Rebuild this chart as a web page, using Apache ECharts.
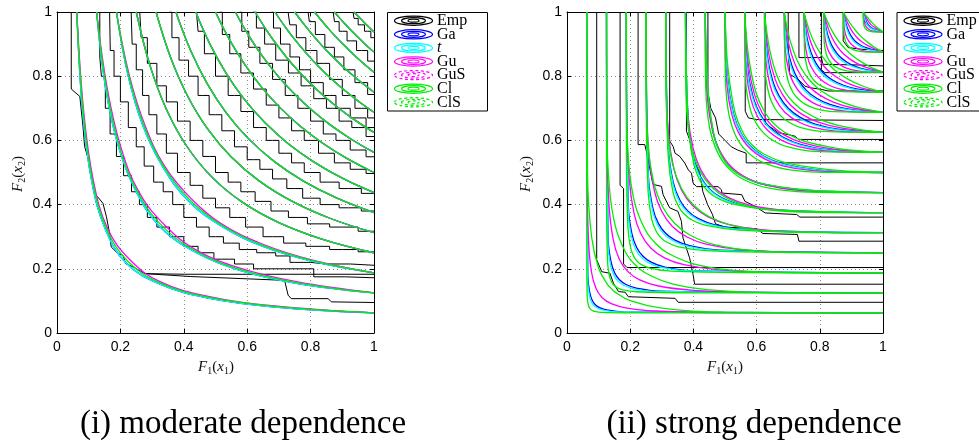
<!DOCTYPE html>
<html><head><meta charset="utf-8">
<script src="https://cdn.jsdelivr.net/npm/echarts/dist/echarts.min.js"></script>
<style>html,body{margin:0;padding:0;background:#fff}#c{width:979px;height:443px}</style>
</head><body><div id="c"></div>
<script>
// ---------- tick values ----------
const axisTicks = [0, 0.2, 0.4, 0.6, 0.8, 1];
const captions = ['(i) moderate dependence', '(ii) strong dependence'];
const legendNames = ['Emp', 'Ga', 't', 'Gu', 'GuS', 'Cl', 'ClS'];

// ---------- (i) moderate dependence : fitted contours ----------
const leftClayton = [
 [[.0625,1],[.0828,.687],[.1122,.473],[.1561,.325],[.2235,.2235],[.325,.1561],[.473,.1122],[.687,.0828],[1,.0625]],
 [[.125,1],[.1564,.7596],[.1982,.5769],[.2548,.4382],[.3329,.3329],[.4382,.2548],[.5769,.1982],[.7596,.1564],[1,.125]],
 [[.1875,1],[.2259,.8033],[.2744,.6456],[.3364,.5189],[.4169,.4169],[.5189,.3364],[.6456,.2744],[.8033,.2259],[1,.1875]],
 [[.25,1],[.2928,.8353],[.3447,.698],[.4084,.5833],[.4872,.4872],[.5833,.4084],[.698,.3447],[.8353,.2928],[1,.25]],
 [[.3125,1],[.3575,.8607],[.4107,.7408],[.4739,.6376],[.5491,.5491],[.6376,.4739],[.7408,.4107],[.8607,.3575],[1,.3125]],
 [[.375,1],[.4208,.8816],[.4733,.7776],[.5339,.6859],[.6047,.6047],[.6859,.5339],[.7776,.4733],[.8816,.4208],[1,.375]],
 [[.4375,1],[.4825,.8999],[.5332,.8098],[.5904,.7287],[.6557,.6557],[.7287,.5904],[.8098,.5332],[.8999,.4825],[1,.4375]],
 [[.5,1],[.5432,.9156],[.591,.8383],[.6439,.7676],[.7028,.7028],[.7676,.6439],[.8383,.591],[.9156,.5432],[1,.5]],
 [[.5625,1],[.6029,.9296],[.6468,.8642],[.6946,.8033],[.7468,.7468],[.8033,.6946],[.8642,.6468],[.9296,.6029],[1,.5625]],
 [[.625,1],[.6617,.9422],[.701,.8878],[.7431,.8366],[.7883,.7883],[.8366,.7431],[.8878,.701],[.9422,.6617],[1,.625]],
 [[.6875,1],[.7197,.9538],[.7536,.9098],[.7896,.8678],[.8277,.8277],[.8678,.7896],[.9098,.7536],[.9538,.7197],[1,.6875]],
 [[.75,1],[.7769,.9644],[.805,.9302],[.8344,.897],[.8651,.8651],[.897,.8344],[.9302,.805],[.9644,.7769],[1,.75]],
 [[.8125,1],[.8336,.9742],[.8554,.9491],[.8777,.9248],[.9009,.9009],[.9248,.8777],[.9491,.8554],[.9742,.8336],[1,.8125]],
 [[.875,1],[.8896,.9834],[.9045,.9671],[.9197,.951],[.9352,.9352],[.951,.9197],[.9671,.9045],[.9834,.8896],[1,.875]],
 [[.9375,1],[.9451,.9919],[.9528,.9839],[.9604,.9761],[.9682,.9682],[.9761,.9604],[.9839,.9528],[.9919,.9451],[1,.9375]]
];
const leftGumbelLow = [
 [[.0625,1],[.0845,.687],[.115,.473],[.16,.325],[.229,.229],[.325,.16],[.473,.115],[.687,.0845],[1,.0625]],
 [[.125,1],[.159,.7596],[.202,.5769],[.259,.4382],[.338,.338],[.4382,.259],[.5769,.202],[.7596,.159],[1,.125]],
 [[.1875,1],[.228,.8033],[.278,.6456],[.34,.5189],[.421,.421],[.5189,.34],[.6456,.278],[.8033,.228],[1,.1875]]
];
const leftTLow = [
 [[.0625,1],[.081,.687],[.1095,.473],[.152,.325],[.218,.218],[.325,.152],[.473,.1095],[.687,.081],[1,.0625]],
 [[.125,1],[.154,.7596],[.195,.5769],[.251,.4382],[.328,.328],[.4382,.251],[.5769,.195],[.7596,.154],[1,.125]],
 [[.1875,1],[.224,.8033],[.271,.6456],[.333,.5189],[.413,.413],[.5189,.333],[.6456,.271],[.8033,.224],[1,.1875]]
];
// empirical contours (i)
const leftEmpRead = [
 [[.045,1],[.045,.76],[.072,.737],[.082,.643],[.087,.581],[.103,.529],[.119,.435],[.145,.404],[.156,.362],[.166,.31],[.171,.268],[.192,.248],[.208,.242],[.217,.216],[.24,.206],[.277,.185],[.403,.183],[1,.183]],
 [[.277,.185],[.42,.176],[.718,.164],[.729,.118],[.739,.107],[.855,.107],[.866,.097],[1,.095]]
];
const leftEmpStep = [
 [[.135,1],[.135,.86],[.145,.8],[.16,.7],[.175,.62],[.2,.55],[.22,.49],[.25,.44],[.27,.4],[.3,.36],[.33,.33],[.38,.3],[.42,.27],[.47,.25],[.52,.23],[.6,.215],[.64,.2],[.8,.2],[.82,.175],[1,.172]],
 [[.166,1],[.17,.88],[.19,.8],[.21,.72],[.24,.64],[.26,.58],[.29,.52],[.32,.47],[.35,.44],[.38,.4],[.42,.36],[.46,.33],[.5,.3],[.55,.28],[.6,.26],[.66,.25],[.72,.24],[.75,.22],[.85,.215],[1,.211]],
 [[.234,1],[.24,.9],[.26,.82],[.28,.74],[.3,.68],[.33,.62],[.36,.56],[.4,.5],[.44,.46],[.48,.42],[.52,.39],[.57,.36],[.62,.33],[.68,.3],[.75,.28],[.82,.27],[.9,.26],[1,.253]],
 [[.261,1],[.27,.92],[.3,.84],[.33,.77],[.36,.72],[.4,.66],[.44,.6],[.48,.55],[.52,.5],[.56,.47],[.6,.44],[.65,.41],[.7,.38],[.76,.36],[.82,.34],[.9,.33],[1,.317]],
 [[.355,1],[.37,.92],[.4,.85],[.43,.8],[.46,.74],[.5,.68],[.54,.63],[.58,.58],[.62,.54],[.66,.51],[.7,.48],[.75,.45],[.8,.42],[.86,.4],[.92,.39],[1,.38]],
 [[.44,1],[.45,.94],[.48,.87],[.52,.8],[.56,.74],[.6,.69],[.64,.64],[.68,.6],[.72,.56],[.76,.53],[.8,.5],[.86,.47],[.92,.45],[1,.435]],
 [[.513,1],[.53,.93],[.56,.87],[.6,.81],[.64,.76],[.68,.71],[.72,.67],[.76,.63],[.8,.6],[.85,.56],[.9,.53],[.95,.51],[1,.497]],
 [[.576,1],[.59,.94],[.62,.89],[.66,.84],[.7,.79],[.74,.74],[.78,.7],[.82,.66],[.86,.62],[.9,.6],[.95,.57],[1,.549]],
 [[.618,1],[.64,.95],[.67,.9],[.71,.85],[.75,.81],[.79,.77],[.83,.73],[.87,.7],[.91,.66],[.95,.64],[1,.612]],
 [[.676,1],[.69,.95],[.72,.9],[.75,.86],[.78,.82],[.82,.78],[.86,.74],[.9,.7],[.95,.67],[1,.64]],
 [[.729,1],[.74,.96],[.77,.92],[.8,.88],[.84,.84],[.88,.79],[.92,.74],[.96,.7],[1,.67]],
 [[.792,1],[.8,.97],[.83,.93],[.86,.89],[.89,.86],[.92,.82],[.96,.78],[1,.743]],
 [[.871,1],[.88,.97],[.9,.94],[.93,.91],[.96,.88],[1,.847]],
 [[.934,1],[.94,.98],[.96,.96],[.98,.94],[1,.92]]
];

// ---------- (ii) strong dependence : fitted contours ----------
const rightClayton = [
 [[.0625,1],[.0627,.2],[.0642,.11],[.0673,.088],[.0708,.079],[.0743,.0743],[.079,.0708],[.088,.0673],[.11,.0642],[.2,.0627],[1,.0625]],
 [[.125,1],[.1253,.4],[.1285,.22],[.1343,.177],[.1415,.158],[.1486,.1486],[.158,.1415],[.177,.1343],[.22,.1285],[.4,.1253],[1,.125]],
 [[.1875,1],[.1881,.55],[.1927,.33],[.2014,.265],[.2122,.237],[.2229,.2229],[.237,.2122],[.265,.2014],[.33,.1927],[.55,.1881],[1,.1875]],
 [[.25,1],[.2508,.7],[.2567,.44],[.2684,.353],[.2826,.316],[.297,.297],[.316,.2826],[.353,.2684],[.44,.2567],[.7,.2508],[1,.25]],
 [[.3125,1],[.3136,.8],[.3207,.545],[.3352,.44],[.3531,.394],[.3707,.3707],[.394,.3531],[.44,.3352],[.545,.3207],[.8,.3136],[1,.3125]],
 [[.375,1],[.3763,.88],[.3841,.65],[.4014,.526],[.423,.471],[.4438,.4438],[.471,.423],[.526,.4014],[.65,.3841],[.88,.3763],[1,.375]],
 [[.4375,1],[.4389,.93],[.4466,.75],[.4667,.61],[.4916,.547],[.5156,.5156],[.547,.4916],[.61,.4667],[.75,.4466],[.93,.4389],[1,.4375]],
 [[.5,1],[.5018,.95],[.509,.83],[.5309,.69],[.5591,.62],[.5857,.5857],[.62,.5591],[.69,.5309],[.83,.509],[.95,.5018],[1,.5]],
 [[.5625,1],[.5657,.95],[.5762,.85],[.5978,.75],[.6245,.69],[.6532,.6532],[.69,.6245],[.75,.5978],[.85,.5762],[.95,.5657],[1,.5625]],
 [[.625,1],[.6293,.96],[.642,.88],[.665,.8],[.6907,.75],[.7173,.7173],[.75,.6907],[.8,.665],[.88,.642],[.96,.6293],[1,.625]],
 [[.6875,1],[.6926,.97],[.7063,.91],[.728,.85],[.7539,.805],[.7774,.7774],[.805,.7539],[.85,.728],[.91,.7063],[.97,.6926],[1,.6875]],
 [[.75,1],[.7551,.98],[.7695,.935],[.7901,.89],[.813,.855],[.8327,.8327],[.855,.813],[.89,.7901],[.935,.7695],[.98,.7551],[1,.75]],
 [[.8125,1],[.8181,.985],[.8315,.955],[.8486,.925],[.8669,.9],[.8827,.8827],[.9,.8669],[.925,.8486],[.955,.8315],[.985,.8181],[1,.8125]],
 [[.875,1],[.8804,.99],[.8911,.972],[.903,.955],[.9153,.94],[.9272,.9272],[.94,.9153],[.955,.903],[.972,.8911],[.99,.8804],[1,.875]],
 [[.9375,1],[.9451,.99],[.9534,.98],[.9606,.972],[.9662,.9662],[.972,.9606],[.98,.9534],[.99,.9451],[1,.9375]]
];
const rightGumbel = [
 [[.0625,1],[.0639,.45],[.0685,.28],[.0775,.19],[.0913,.14],[.1107,.1107],[.14,.0913],[.19,.0775],[.28,.0685],[.45,.0639],[1,.0625]],
 [[.125,1],[.1263,.6],[.1329,.4],[.1464,.29],[.1655,.23],[.1919,.1919],[.23,.1655],[.29,.1464],[.4,.1329],[.6,.1263],[1,.125]],
 [[.1875,1],[.1888,.68],[.1968,.48],[.2127,.37],[.2333,.31],[.2649,.2649],[.31,.2333],[.37,.2127],[.48,.1968],[.68,.1888],[1,.1875]],
 [[.25,1],[.251,.75],[.2597,.55],[.2772,.44],[.2991,.38],[.3328,.3328],[.38,.2991],[.44,.2772],[.55,.2597],[.75,.251],[1,.25]],
 [[.3125,1],[.3134,.8],[.3212,.62],[.3387,.51],[.3627,.445],[.3973,.3973],[.445,.3627],[.51,.3387],[.62,.3212],[.8,.3134],[1,.3125]],
 [[.375,1],[.3756,.85],[.3827,.68],[.3992,.575],[.4227,.51],[.4591,.4591],[.51,.4227],[.575,.3992],[.68,.3827],[.85,.3756],[1,.375]],
 [[.4375,1],[.4379,.88],[.4443,.73],[.4605,.63],[.4824,.57],[.5188,.5188],[.57,.4824],[.63,.4605],[.73,.4443],[.88,.4379],[1,.4375]],
 [[.5,1],[.5004,.9],[.5064,.77],[.5216,.68],[.5423,.625],[.5769,.5769],[.625,.5423],[.68,.5216],[.77,.5064],[.9,.5004],[1,.5]],
 [[.5625,1],[.5628,.92],[.5679,.81],[.5815,.73],[.6001,.68],[.6334,.6334],[.68,.6001],[.73,.5815],[.81,.5679],[.92,.5628],[1,.5625]],
 [[.625,1],[.6252,.94],[.6291,.85],[.6417,.775],[.6588,.73],[.6886,.6886],[.73,.6588],[.775,.6417],[.85,.6291],[.94,.6252],[1,.625]],
 [[.6875,1],[.6877,.95],[.691,.88],[.7011,.82],[.716,.78],[.7428,.7428],[.78,.716],[.82,.7011],[.88,.691],[.95,.6877],[1,.6875]],
 [[.75,1],[.7502,.96],[.7526,.91],[.7597,.865],[.7719,.83],[.7959,.7959],[.83,.7719],[.865,.7597],[.91,.7526],[.96,.7502],[1,.75]],
 [[.8125,1],[.8126,.975],[.8145,.935],[.8203,.9],[.8292,.875],[.8481,.8481],[.875,.8292],[.9,.8203],[.935,.8145],[.975,.8126],[1,.8125]],
 [[.875,1],[.8758,.965],[.8791,.94],[.8855,.92],[.8994,.8994],[.92,.8855],[.94,.8791],[.965,.8758],[1,.875]],
 [[.9375,1],[.9388,.975],[.9432,.96],[.9501,.9501],[.96,.9432],[.975,.9388],[1,.9375]]
];
const rightGauss = [
 [[.0625,1],[.0659,.178],[.0714,.1288],[.079,.1034],[.0889,.0889],[.1034,.079],[.1288,.0714],[.178,.0659],[1,.0625]],
 [[.125,1],[.1303,.292],[.1392,.2222],[.1511,.1868],[.166,.166],[.1868,.1511],[.2222,.1392],[.292,.1303],[1,.125]],
 [[.1875,1],[.1943,.39],[.2059,.307],[.2206,.2662],[.2397,.2397],[.2662,.2206],[.307,.2059],[.39,.1943],[1,.1875]],
 [[.25,1],[.2579,.484],[.2719,.3878],[.2892,.3416],[.3113,.3113],[.3416,.2892],[.3878,.2719],[.484,.2579],[1,.25]],
 [[.3125,1],[.3209,.575],[.3366,.468],[.357,.4144],[.3813,.3813],[.4144,.357],[.468,.3366],[.575,.3209],[1,.3125]],
 [[.375,1],[.3836,.662],[.4005,.5456],[.4229,.4866],[.4499,.4499],[.4866,.4229],[.5456,.4005],[.662,.3836],[1,.375]],
 [[.4375,1],[.4457,.742],[.4642,.618],[.488,.5562],[.5169,.5169],[.5562,.488],[.618,.4642],[.742,.4457],[1,.4375]],
 [[.5,1],[.5077,.8],[.5263,.685],[.5507,.6225],[.5813,.5813],[.6225,.5507],[.685,.5263],[.8,.5077],[1,.5]],
 [[.5625,1],[.5712,.826],[.588,.738],[.6099,.684],[.6413,.6413],[.684,.6099],[.738,.588],[.826,.5712],[1,.5625]],
 [[.625,1],[.6343,.862],[.651,.785],[.6716,.738],[.7001,.7001],[.738,.6716],[.785,.651],[.862,.6343],[1,.625]],
 [[.6875,1],[.6971,.892],[.7119,.832],[.7312,.79],[.7567,.7567],[.79,.7312],[.832,.7119],[.892,.6971],[1,.6875]],
 [[.75,1],[.7594,.92],[.7718,.875],[.7883,.84],[.8106,.8106],[.84,.7883],[.875,.7718],[.92,.7594],[1,.75]],
 [[.8125,1],[.8213,.943],[.8316,.91],[.8443,.885],[.862,.862],[.885,.8443],[.91,.8316],[.943,.8213],[1,.8125]],
 [[.875,1],[.8819,.9678],[.8887,.946],[.8974,.928],[.9105,.9105],[.928,.8974],[.946,.8887],[.9678,.8819],[1,.875]],
 [[.9375,1],[.9406,.99],[.9447,.977],[.9501,.9648],[.9566,.9566],[.9648,.9501],[.977,.9447],[.99,.9406],[1,.9375]]
];
const rightT = [
 [[.0625,1],[.0655,.161],[.0704,.1186],[.077,.0973],[.0852,.0852],[.0973,.077],[.1186,.0704],[.161,.0655],[1,.0625]],
 [[.125,1],[.1299,.274],[.1379,.2109],[.1488,.1796],[.1616,.1616],[.1796,.1488],[.2109,.1379],[.274,.1299],[1,.125]],
 [[.1875,1],[.1939,.375],[.2048,.2965],[.2185,.2589],[.2355,.2355],[.2589,.2185],[.2965,.2048],[.375,.1939],[1,.1875]],
 [[.25,1],[.2576,.473],[.2711,.3791],[.2875,.3352],[.3077,.3077],[.3352,.2875],[.3791,.2711],[.473,.2576],[1,.25]],
 [[.3125,1],[.3209,.5675],[.3362,.461],[.356,.4093],[.3787,.3787],[.4093,.356],[.461,.3362],[.5675,.3209],[1,.3125]],
 [[.375,1],[.3837,.659],[.4008,.5407],[.4229,.4827],[.4484,.4484],[.4827,.4229],[.5407,.4008],[.659,.3837],[1,.375]],
 [[.4375,1],[.4459,.744],[.4649,.616],[.4888,.5539],[.5165,.5165],[.5539,.4888],[.616,.4649],[.744,.4459],[1,.4375]],
 [[.5,1],[.5074,.794],[.5254,.684],[.549,.623],[.5804,.5804],[.623,.549],[.684,.5254],[.794,.5074],[1,.5]],
 [[.5625,1],[.5704,.822],[.5864,.736],[.6075,.683],[.6394,.6394],[.683,.6075],[.736,.5864],[.822,.5704],[1,.5625]],
 [[.625,1],[.633,.859],[.6487,.7825],[.6684,.736],[.6972,.6972],[.736,.6684],[.7825,.6487],[.859,.633],[1,.625]],
 [[.6875,1],[.6956,.889],[.7092,.829],[.7274,.7875],[.7532,.7532],[.7875,.7274],[.829,.7092],[.889,.6956],[1,.6875]],
 [[.75,1],[.7577,.9175],[.7688,.8725],[.7842,.8375],[.8069,.8069],[.8375,.7842],[.8725,.7688],[.9175,.7577],[1,.75]],
 [[.8125,1],[.8197,.941],[.8288,.9075],[.8405,.8825],[.8585,.8585],[.8825,.8405],[.9075,.8288],[.941,.8197],[1,.8125]],
 [[.875,1],[.8804,.9671],[.8863,.9445],[.8945,.926],[.9078,.9078],[.926,.8945],[.9445,.8863],[.9671,.8804],[1,.875]],
 [[.9375,1],[.9398,.99],[.9432,.9765],[.9484,.9636],[.955,.955],[.9636,.9484],[.9765,.9432],[.99,.9398],[1,.9375]]
];
const rightClaytonSurv = [
 [[.0625,1],[.0649,.5],[.0777,.3],[.1008,.2],[.129,.15],[.1395,.1395],[.15,.129],[.2,.1008],[.3,.0777],[.5,.0649],[1,.0625]],
 [[.125,1],[.1259,.65],[.1344,.45],[.1537,.33],[.1861,.25],[.2141,.2141],[.25,.1861],[.33,.1537],[.45,.1344],[.65,.1259],[1,.125]],
 [[.1875,1],[.1881,.72],[.196,.52],[.2157,.4],[.2485,.32],[.2798,.2798],[.32,.2485],[.4,.2157],[.52,.196],[.72,.1881],[1,.1875]],
 [[.25,1],[.2502,.8],[.2556,.6],[.2742,.47],[.3044,.39],[.341,.341],[.39,.3044],[.47,.2742],[.6,.2556],[.8,.2502],[1,.25]],
 [[.3125,1],[.3126,.85],[.317,.65],[.3332,.53],[.3622,.45],[.3995,.3995],[.45,.3622],[.53,.3332],[.65,.317],[.85,.3126],[1,.3125]],
 [[.375,1],[.3751,.88],[.3783,.7],[.3936,.58],[.4234,.5],[.4564,.4564],[.5,.4234],[.58,.3936],[.7,.3783],[.88,.3751],[1,.375]],
 [[.4375,1],[.4376,.92],[.4393,.76],[.4512,.64],[.4775,.56],[.5121,.5121],[.56,.4775],[.64,.4512],[.76,.4393],[.92,.4376],[1,.4375]],
 [[.5,1],[.5007,.82],[.5091,.7],[.5313,.62],[.5673,.5673],[.62,.5313],[.7,.5091],[.82,.5007],[1,.5]],
 [[.5625,1],[.5659,.7813],[.5811,.6938],[.6009,.65],[.6226,.6226],[.65,.6009],[.6938,.5811],[.7813,.5659],[1,.5625]],
 [[.625,1],[.6279,.8125],[.6409,.7375],[.6579,.7],[.6765,.6765],[.7,.6579],[.7375,.6409],[.8125,.6279],[1,.625]],
 [[.6875,1],[.6899,.8438],[.7008,.7813],[.7149,.75],[.7304,.7304],[.75,.7149],[.7813,.7008],[.8438,.6899],[1,.6875]],
 [[.75,1],[.7519,.875],[.7606,.825],[.772,.8],[.7843,.7843],[.8,.772],[.825,.7606],[.875,.7519],[1,.75]],
 [[.8125,1],[.8139,.9063],[.8205,.8688],[.829,.85],[.8382,.8382],[.85,.829],[.8688,.8205],[.9063,.8139],[1,.8125]],
 [[.875,1],[.876,.9375],[.8803,.9125],[.886,.9],[.8922,.8922],[.9,.886],[.9125,.8803],[.9375,.876],[1,.875]],
 [[.9375,1],[.938,.9688],[.9402,.9563],[.943,.95],[.9461,.9461],[.95,.943],[.9563,.9402],[.9688,.938],[1,.9375]]
];
const rightGumbelSurv = [
 [[.5625,1],[.5737,.838],[.5929,.744],[.6172,.687],[.6473,.6473],[.687,.6172],[.744,.5929],[.838,.5737],[1,.5625]],
 [[.625,1],[.6382,.871],[.658,.7925],[.6812,.744],[.7087,.7087],[.744,.6812],[.7925,.658],[.871,.6382],[1,.625]],
 [[.6875,1],[.7017,.901],[.72,.841],[.7426,.7975],[.7671,.7671],[.7975,.7426],[.841,.72],[.901,.7017],[1,.6875]],
 [[.75,1],[.7645,.9275],[.781,.8825],[.8007,.8475],[.8217,.8217],[.8475,.8007],[.8825,.781],[.9275,.7645],[1,.75]],
 [[.8125,1],[.8264,.949],[.8401,.9175],[.8556,.8925],[.8724,.8724],[.8925,.8556],[.9175,.8401],[.949,.8264],[1,.8125]],
 [[.875,1],[.8865,.9699],[.8959,.9505],[.9064,.934],[.9189,.9189],[.934,.9064],[.9505,.8959],[.9699,.8865],[1,.875]],
 [[.9375,1],[.9429,.99],[.9491,.9785],[.9554,.9684],[.9614,.9614],[.9684,.9554],[.9785,.9491],[.99,.9429],[1,.9375]]
];
// empirical contours (ii)
const rightEmp = [
 [[.094,1],[.094,.228],[.11,.191],[.136,.186],[.147,.155],[.163,.129],[.184,.127],[.194,.113],[.342,.108],[.352,.0956],[1,.0956]],
 [[.168,1],[.168,.46],[.179,.45],[.179,.215],[.19,.204],[1,.204]],
 [[.225,1],[.225,.587],[.246,.587],[.251,.567],[.272,.463],[.299,.457],[.304,.431],[.325,.39],[.351,.379],[.362,.348],[.367,.296],[.388,.234],[.399,.182],[.404,.152],[1,.152]],
 [[.325,1],[.325,.598],[.336,.581],[.342,.56],[.357,.55],[.373,.529],[.384,.508],[.394,.498],[.399,.467],[.41,.456],[.478,.456],[.489,.446],[.49,.436],[.553,.431],[.563,.41],[.595,.395],[.627,.374],[.727,.369],[.737,.361],[1,.361]],
 [[.378,1],[.378,.629],[.389,.6],[.395,.56],[.405,.53],[.42,.5],[.43,.44],[.445,.4],[.46,.37],[.47,.34],[.5,.33],[.6,.325],[.62,.31],[.729,.307],[.734,.286],[1,.286]],
 [[.446,1],[.446,.75],[.455,.7],[.47,.67],[.48,.62],[.5,.6],[.52,.58],[.54,.57],[.567,.56],[.567,.53],[1,.53]],
 [[.564,1],[.564,.691],[.574,.67],[.6,.665],[1,.662]],
 [[.627,1],[.627,.65],[.648,.639],[.669,.624],[.7,.618],[.722,.613],[.732,.603],[1,.603]],
 [[.7,1],[.7,.873],[.705,.806],[.732,.79],[.753,.769],[.769,.764],[.805,.759],[.826,.754],[1,.754]],
 [[.734,1],[.734,.858],[.805,.858],[.81,.837],[.92,.835],[1,.832]],
 [[.805,1],[.805,.82],[.816,.811],[1,.811]],
 [[.874,1],[.874,.91],[.89,.889],[.932,.884],[1,.88]],
 [[.94,1],[.94,.972],[.955,.955],[.97,.945],[1,.937]]
];

// ---------- styles ----------
const COL = {emp:'#000000', ga:'#0000ff', t:'#00ffff', gu:'#ff00ff', cl:'#00ee00'};
const FIT_W = 1.3;
const series = [];
function addCurves(curves, ax, color, width, extra) {
  curves.forEach(function (c) {
    series.push(Object.assign({
      type: 'line', xAxisIndex: ax, yAxisIndex: ax, data: c,
      symbol: 'none', showSymbol: false, silent: true, animation: false,
      emphasis: {disabled: true}, clip: true,
      lineStyle: {color: color, width: width}
    }, extra || {}));
  });
}
const SM = {smooth: 0.4};
// panel (i)  -> axes 0
addCurves(leftEmpRead, 0, COL.emp, 1);
addCurves(leftEmpStep, 0, COL.emp, 1, {step: 'middle'});
addCurves(leftTLow.concat(leftClayton.slice(3)), 0, COL.ga, FIT_W, SM);
addCurves(leftTLow.concat(leftClayton.slice(3)), 0, COL.t, FIT_W, SM);
addCurves(leftGumbelLow.concat(leftClayton.slice(3)), 0, COL.gu, FIT_W, SM);
addCurves(leftClayton, 0, COL.cl, FIT_W, SM);
// panel (ii) -> axes 2
addCurves(rightEmp, 2, COL.emp, 1);
addCurves(rightGauss, 2, COL.ga, FIT_W, SM);
addCurves(rightT, 2, COL.t, FIT_W, SM);
addCurves(rightGumbel, 2, COL.gu, FIT_W, SM);
addCurves(rightGumbelSurv, 2, COL.gu, FIT_W, SM);
addCurves(rightClayton, 2, COL.cl, FIT_W, SM);
addCurves(rightClaytonSurv, 2, COL.cl, FIT_W, SM);

const grids = [
  {left: 57, top: 12, width: 317, height: 321, outerBoundsMode: 'none', containLabel: false},
  {left: 567, top: 12, width: 316, height: 321, outerBoundsMode: 'none', containLabel: false}
];
function mkAxis(g, pos, main, margin) {
  return {
    gridIndex: g, type: 'value', position: pos,
    min: axisTicks[0], max: axisTicks[axisTicks.length - 1], interval: axisTicks[1] - axisTicks[0],
    axisLine: {show: true, onZero: false, lineStyle: {color: '#000', width: 1}},
    axisTick: {show: true, inside: true, length: 4, lineStyle: {color: '#000', width: 1}},
    axisLabel: main ? {show: true, color: '#000', fontSize: 14, fontFamily: 'Liberation Sans, Arial, sans-serif', margin: margin} : {show: false},
    splitLine: main ? {show: true, lineStyle: {color: '#8a8a8a', width: 1, type: [1, 3]}} : {show: false}
  };
}
const xAxes = [mkAxis(0, 'bottom', true, 7), mkAxis(0, 'top', false), mkAxis(1, 'bottom', true, 7), mkAxis(1, 'top', false)];
const yAxes = [mkAxis(0, 'left', true, 5), mkAxis(0, 'right', false), mkAxis(1, 'left', true, 5), mkAxis(1, 'right', false)];

// ---------- graphics: legends, axis titles, captions ----------
const graphics = [];
const legendColors = [COL.emp, COL.ga, COL.t, COL.gu, COL.gu, COL.cl, COL.cl];
const legendDashed = [false, false, false, false, true, false, true];
function addLegend(x0) {
  graphics.push({type: 'rect', shape: {x: x0 + 0.5, y: 12.5, width: 100, height: 98.5},
    style: {fill: '#fff', stroke: '#000', lineWidth: 1}, z: 100});
  legendNames.forEach(function (name, i) {
    const cy = 20.7 + i * 13.6, cx = x0 + 26.5;
    [[19, 4.6], [12, 3], [5.5, 1.5]].forEach(function (r) {
      graphics.push({type: 'ellipse', shape: {cx: cx, cy: cy, rx: r[0], ry: r[1]},
        style: {fill: 'none', stroke: legendColors[i], lineWidth: 1.2, lineDash: legendDashed[i] ? [3, 2.5] : null}, z: 101});
    });
    graphics.push({type: 'text', x: x0 + 50, y: cy, z: 101,
      style: {text: name, fill: '#000', font: (name === 't' ? 'italic ' : '') + '16px "Liberation Serif", serif',
        align: 'left', verticalAlign: 'middle'}});
  });
}
addLegend(387);
addLegend(896.5);
const richTitle = {
  i: {fontFamily: 'Liberation Serif', fontStyle: 'italic', fontSize: 15, lineHeight: 18, fill: '#111'},
  n: {fontFamily: 'Liberation Serif', fontSize: 15, lineHeight: 18, fill: '#111'},
  s: {fontFamily: 'Liberation Serif', fontSize: 10, lineHeight: 10, verticalAlign: 'bottom', fill: '#111'}
};
const xTitle = '{i|F}{s|1}{n|(}{i|x}{s|1}{n|)}';
const yTitle = '{i|F}{s|2}{n|(}{i|x}{s|2}{n|)}';
[[216, 367, xTitle, 0], [725, 367, xTitle, 0], [18, 174, yTitle, Math.PI / 2], [526, 174, yTitle, Math.PI / 2]].forEach(function (t) {
  graphics.push({type: 'text', x: t[0], y: t[1], rotation: t[3], z: 50,
    style: {text: t[2], rich: richTitle, align: 'center', verticalAlign: 'middle'}});
});
[[243, 424, captions[0]], [754, 424, captions[1]]].forEach(function (c) {
  graphics.push({type: 'text', x: c[0], y: c[1], z: 50,
    style: {text: c[2], fill: '#000', font: '33px "Liberation Serif", serif', align: 'center', verticalAlign: 'middle'}});
});

const chart = echarts.init(document.getElementById('c'), null, {renderer: 'canvas'});
chart.setOption({
  animation: false,
  backgroundColor: '#fff',
  grid: grids,
  xAxis: xAxes,
  yAxis: yAxes,
  series: series,
  graphic: graphics
});
</script></body></html>
